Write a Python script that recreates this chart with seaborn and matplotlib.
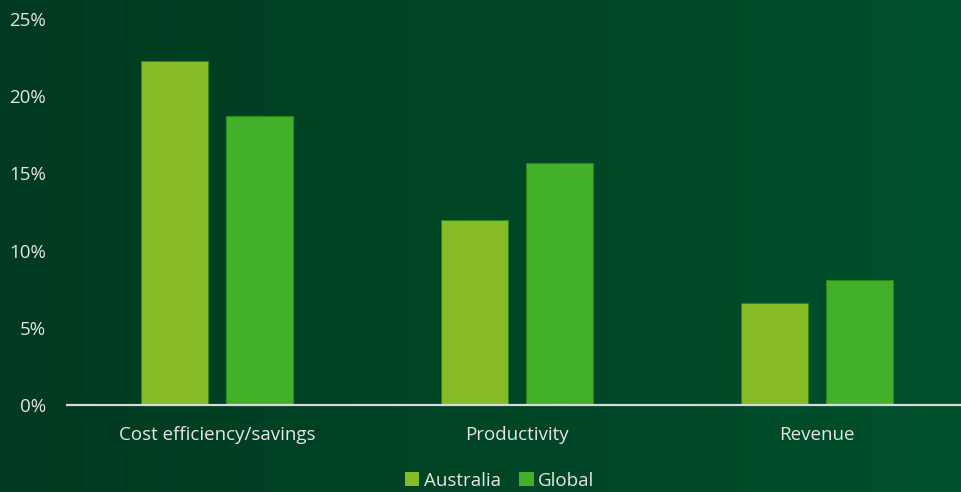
import numpy as np
import pandas as pd
import matplotlib
matplotlib.use("Agg")
import matplotlib.pyplot as plt
from matplotlib.colors import LinearSegmentedColormap
import seaborn as sns

categories = ["Cost efficiency/savings", "Productivity", "Revenue"]
series_names = ["Australia", "Global"]
australia = [22.3, 12.0, 6.6]
global_vals = [18.7, 15.7, 8.1]
y_ticks = [0, 5, 10, 15, 20, 25]
y_tick_labels = ["0%", "5%", "10%", "15%", "20%", "25%"]

df = pd.DataFrame({
    "category": categories * 2,
    "series": [series_names[0]] * 3 + [series_names[1]] * 3,
    "value": australia + global_vals,
})

sns.set_theme(style="white")
plt.rcParams["font.family"] = ["Open Sans", "DejaVu Sans"]
text_color = "#e6e6e6"
fs = 13.5

fig = plt.figure(figsize=(9.61, 4.92), dpi=100)

# horizontal gradient backdrop
bg = fig.add_axes([0, 0, 1, 1], zorder=-10)
cmap = LinearSegmentedColormap.from_list("bg", ["#003a20", "#00502c"])
bg.imshow(np.linspace(0, 1, 256)[None, :], aspect="auto", cmap=cmap,
          extent=[0, 1, 0, 1])
bg.set_axis_off()

ax = fig.add_axes([67 / 961, 87 / 492, 900 / 961, 386 / 492])
ax.patch.set_alpha(0)

palette = {"Australia": "#86bc25", "Global": "#43b02a"}
sns.barplot(data=df, x="category", y="value", hue="series", order=categories,
            hue_order=series_names, palette=palette, width=0.57, gap=0.216,
            edgecolor="#2a8a18", linewidth=0.8, saturation=1, ax=ax, legend=False)

ax.set_xlim(-0.5, 2.5)
ax.set_ylim(0, 25)
ax.set_yticks(y_ticks)
ax.set_yticklabels(y_tick_labels)
ax.set_xlabel("")
ax.set_ylabel("")
ax.tick_params(axis="both", length=0, colors=text_color, labelsize=fs)
ax.tick_params(axis="y", pad=15)
ax.tick_params(axis="x", pad=15)
for side in ["top", "right", "left"]:
    ax.spines[side].set_visible(False)
ax.spines["bottom"].set_color("#d9d9d9")
ax.spines["bottom"].set_linewidth(1.6)
ax.spines["bottom"].set_zorder(5)

handles = [plt.Rectangle((0, 0), 1, 1, facecolor=palette[s], edgecolor="none")
           for s in series_names]
leg = fig.legend(handles, series_names, loc="lower center",
                 bbox_to_anchor=(0.52, -0.03), ncol=2, frameon=False,
                 fontsize=fs, handlelength=0.75, handleheight=0.75,
                 handletextpad=0.25, columnspacing=1.0, labelcolor=text_color)

fig.savefig("out.png", dpi=100)
